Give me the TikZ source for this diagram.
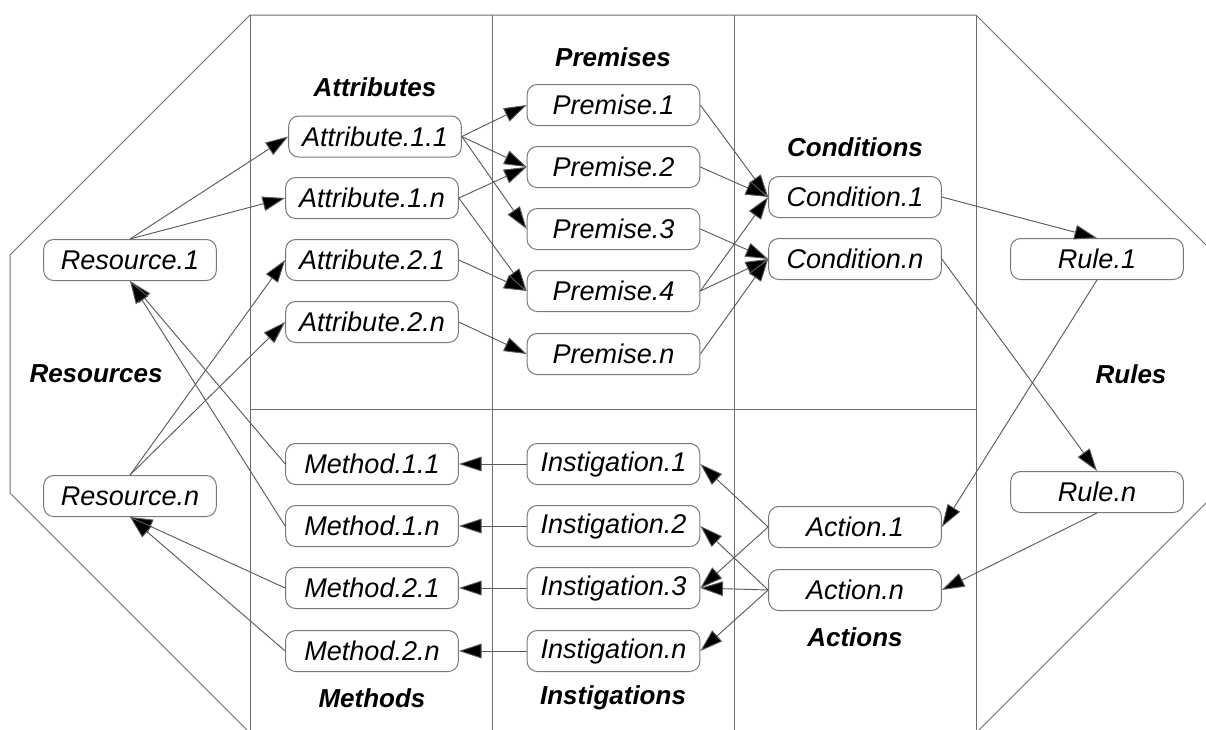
\documentclass[tikz,border=0pt]{standalone}
\usepackage{fontspec}
\setmainfont{Liberation Sans}
\usetikzlibrary{arrows.meta}
\definecolor{framegray}{RGB}{110,110,110}
\definecolor{boxgray}{RGB}{120,120,120}
\definecolor{linegray}{RGB}{90,90,90}
\tikzset{
  item/.style={draw=boxgray, line width=0.75pt, rounded corners=7.5pt, fill=white,
    minimum width=129.5pt, minimum height=30.75pt, inner sep=0pt,
    font=\fontsize{20.3}{22}\selectfont\itshape},
  heading/.style={font=\fontsize{19.5}{22}\selectfont\bfseries\itshape, inner sep=0pt},
  conn/.style={draw=linegray, line width=0.7pt,
    -{Triangle[length=17pt, width=11pt, fill=black]}},
  frameline/.style={draw=framegray, line width=0.75pt}
}
\begin{document}
\begin{tikzpicture}[x=0.75pt, y=-0.75pt]
\useasboundingbox (0,0) rectangle (1206,729);
\begin{scope}
\clip (0,0) rectangle (1206,729);
\draw[frameline] (250,15) -- (976,15) -- (1216,255) -- (1216,493) -- (976,733) -- (250,733) -- (10,493) -- (10,255) -- cycle;
\draw[frameline] (250,15) -- (250,733);
\draw[frameline] (492,15) -- (492,733);
\draw[frameline] (734,15) -- (734,733);
\draw[frameline] (976,15) -- (976,733);
\draw[frameline] (250,409) -- (976,409);
\end{scope}

% headings
\node[heading] (hatt) at (375,87) {Attributes};
\node[heading] (hpre) at (613,57) {Premises};
\node[heading] (hcon) at (855,147) {Conditions};
\node[heading] (hres) at (96,374) {Resources};
\node[heading] (hrul) at (1131,374) {Rules};
\node[heading] (hmet) at (372,698) {Methods};
\node[heading] (hins) at (613,698) {Instigations};
\node[heading] (hact) at (855,637) {Actions};

% nodes
\node[item] (r1) at (130,260) {Resource.1};
\node[item] (rn) at (130,496) {Resource.n};
\node[item] (a11) at (375,136.5) {Attribute.1.1};
\node[item] (a1n) at (372,198) {Attribute.1.n};
\node[item] (a21) at (372,260) {Attribute.2.1};
\node[item] (a2n) at (372,322) {Attribute.2.n};
\node[item] (m11) at (372,464) {Method.1.1};
\node[item] (m1n) at (372,526) {Method.1.n};
\node[item] (m21) at (372,588) {Method.2.1};
\node[item] (m2n) at (372,651) {Method.2.n};
\node[item] (p1) at (613.5,105) {Premise.1};
\node[item] (p2) at (613.5,167) {Premise.2};
\node[item] (p3) at (613.5,229) {Premise.3};
\node[item] (p4) at (613.5,291) {Premise.4};
\node[item] (pn) at (613.5,354) {Premise.n};
\node[item] (i1) at (613.5,464) {Instigation.1};
\node[item] (i2) at (613.5,526) {Instigation.2};
\node[item] (i3) at (613.5,588) {Instigation.3};
\node[item] (in) at (613.5,651) {Instigation.n};
\node[item] (c1) at (855,197) {Condition.1};
\node[item] (cn) at (855,259) {Condition.n};
\node[item] (ac1) at (855,527) {Action.1};
\node[item] (acn) at (855,590) {Action.n};
\node[item] (ru1) at (1097,259) {Rule.1};
\node[item] (run) at (1097,492) {Rule.n};

% connectors
\draw[conn] (r1.north) -- (a11.west);
\draw[conn] (r1.north) -- (a1n.west);
\draw[conn] (rn.north) -- (a21.west);
\draw[conn] (rn.north) -- (a2n.west);
\draw[conn] (m11.west) -- (r1.south);
\draw[conn] (m1n.west) -- (r1.south);
\draw[conn] (m21.west) -- (rn.south);
\draw[conn] (m2n.west) -- (rn.south);
\draw[conn] (i1.west) -- (m11.east);
\draw[conn] (i2.west) -- (m1n.east);
\draw[conn] (i3.west) -- (m21.east);
\draw[conn] (in.west) -- (m2n.east);
\draw[conn] (a11.east) -- (p1.west);
\draw[conn] (a11.east) -- (p2.west);
\draw[conn] (a11.east) -- (p3.west);
\draw[conn] (a1n.east) -- (p2.west);
\draw[conn] (a1n.east) -- (p4.west);
\draw[conn] (a21.east) -- (p4.west);
\draw[conn] (a2n.east) -- (pn.west);
\draw[conn] (p1.east) -- (c1.west);
\draw[conn] (p2.east) -- (c1.west);
\draw[conn] (p4.east) -- (c1.west);
\draw[conn] (p3.east) -- (cn.west);
\draw[conn] (p4.east) -- (cn.west);
\draw[conn] (pn.east) -- (cn.west);
\draw[conn] (c1.east) -- (ru1.north);
\draw[conn] (cn.east) -- (run.north);
\draw[conn] (ru1.south) -- (ac1.east);
\draw[conn] (run.south) -- (acn.east);
\draw[conn] (ac1.west) -- (i1.east);
\draw[conn] (ac1.west) -- (i3.east);
\draw[conn] (acn.west) -- (i2.east);
\draw[conn] (acn.west) -- (i3.east);
\draw[conn] (acn.west) -- (in.east);
\end{tikzpicture}
\end{document}
